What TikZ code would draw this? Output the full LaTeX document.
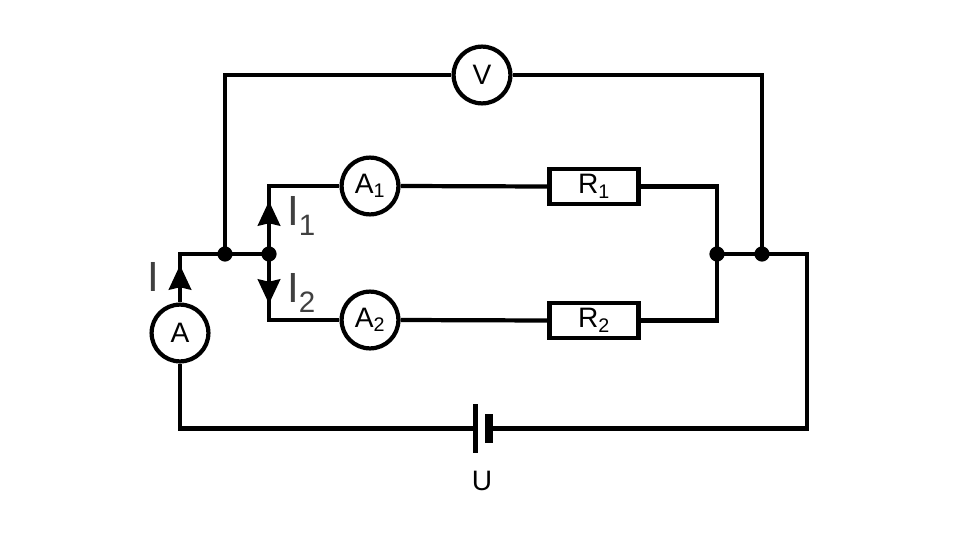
\documentclass[tikz,border=0pt]{standalone}
\usepackage{fontspec}
\setmainfont{Liberation Sans}
\usetikzlibrary{arrows.meta}

\definecolor{labelgrey}{HTML}{404040}

\tikzset{
	wire/.style={line width=3.6pt, line cap=butt, line join=miter},
	meter/.style={circle, draw, line width=3.6pt, fill=white, minimum size=48.5pt, inner sep=0pt, font=\fontsize{24}{24}\selectfont},
	resistor/.style={rectangle, draw, line width=3.6pt, fill=white, minimum width=76pt, minimum height=30pt, inner sep=0pt, font=\fontsize{24}{24}\selectfont},
	junction/.style={circle, fill, minimum size=13pt, inner sep=0pt},
	plate/.style={rectangle, fill, inner sep=0pt},
	flow/.style={line width=3.6pt, -{Stealth[length=21pt, width=19pt, inset=2pt]}},
	currentlabel/.style={text=labelgrey, font=\fontsize{36}{36}\selectfont}
}

\begin{document}
\begin{tikzpicture}[x=0.03cm, y=-0.03cm]
	\useasboundingbox (0,0) rectangle (960,537);

	% meters and resistors
	\node[meter] (A) at (180,333) {A};
	\node[meter] (V) at (482,75) {V};
	\node[meter] (Aone) at (370,186) {A\textsubscript{1}};
	\node[meter] (Atwo) at (370,320) {A\textsubscript{2}};
	\node[resistor] (Rone) at (594,186.5) {R\textsubscript{1}};
	\node[resistor] (Rtwo) at (594,320.5) {R\textsubscript{2}};

	% battery
	\node[plate, minimum width=4pt, minimum height=42pt] (Blong) at (475.5,428.5) {};
	\node[plate, minimum width=6.5pt, minimum height=25pt] (Bshort) at (489,428.5) {};
	\node (U) at (482,481) {\fontsize{24}{24}\selectfont U};

	% junctions
	\node[junction] (Ja) at (225,254) {};
	\node[junction] (Jb) at (269,254) {};
	\node[junction] (Jc) at (717,254) {};
	\node[junction] (Jd) at (762,254) {};

	\coordinate (TR) at (807,254);
	\coordinate (tipI) at (180,265);
	\coordinate (tipIone) at (269,201);
	\coordinate (tipItwo) at (269,304);

	% wires
	\draw[wire] (A.south) |- (Blong.west);
	\draw[wire] (Bshort.east) -| (TR) -- (Jd.center);
	\draw[wire] (A.north) |- (Ja.center);
	\draw[wire] (Ja.center) -- (Jb.center);
	\draw[wire] (Ja.center) |- (V.west);
	\draw[wire] (V.east) -| (Jd.center);
	\draw[wire] (Jb.center) |- (Aone.west);
	\draw[wire] (Jb.center) |- (Atwo.west);
	\draw[wire] (Aone.east) -- (Rone.west);
	\draw[wire] (Atwo.east) -- (Rtwo.west);
	\draw[wire] (Rone.east) -| (Jc.center);
	\draw[wire] (Rtwo.east) -| (Jc.center);
	\draw[wire] (Jc.center) -- (Jd.center);

	% currents
	\draw[flow] (A.north) -- (tipI);
	\draw[flow] (Jb.center) -- (tipIone);
	\draw[flow] (Jb.center) -- (tipItwo);
	\node[currentlabel] (I) at (153,277) {I};
	\node[currentlabel, anchor=west] (Ione) at (283,216) {I\textsubscript{1}};
	\node[currentlabel, anchor=west] (Itwo) at (283,293) {I\textsubscript{2}};
\end{tikzpicture}
\end{document}
